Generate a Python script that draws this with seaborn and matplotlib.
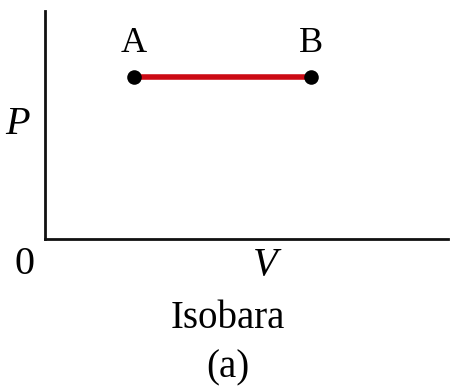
import matplotlib
matplotlib.use("Agg")
import matplotlib.pyplot as plt
import seaborn as sns
import pandas as pd

# Isobaric process: constant pressure, volume grows from A to B
states = ["A", "B"]
volume = [1.0, 3.0]
pressure = [1.0, 1.0]

df = pd.DataFrame({"state": states, "V": volume, "P": pressure})

sns.set_style("white")
plt.rcParams["font.family"] = ["Liberation Serif", "DejaVu Serif"]
plt.rcParams["text.color"] = "black"

fig = plt.figure(figsize=(4.5, 3.9), dpi=100)
ax = fig.add_axes([45 / 450, 1 - 239 / 390, 403 / 450, 228 / 390])

sns.lineplot(data=df, x="V", y="P", ax=ax, color="#cc0a14", linewidth=4.0,
             sort=False, zorder=2)
sns.scatterplot(data=df, x="V", y="P", ax=ax, color="black", s=110,
                linewidth=0, zorder=3, legend=False)

for _, row in df.iterrows():
    ax.annotate(row["state"], (row["V"], row["P"]), xytext=(0, 12),
                textcoords="offset points", ha="center", va="bottom",
                fontsize=26, color="black")

ax.set_xlim(0, 4.55)
ax.set_ylim(0, 1.407)
ax.set_xticks([])
ax.set_yticks([])
ax.set_xlabel("")
ax.set_ylabel("")
for side in ("top", "right"):
    ax.spines[side].set_visible(False)
for side in ("left", "bottom"):
    ax.spines[side].set_linewidth(2.0)
    ax.spines[side].set_color("#111111")

ax.text(-20 / 403, -26 / 228, "0", transform=ax.transAxes, ha="center",
        va="center", fontsize=29)
ax.text(220 / 403, -27 / 228, "V", transform=ax.transAxes, ha="center",
        va="center", fontsize=29, style="italic")
ax.text(-27 / 403, (239 - 125) / 228, "P", transform=ax.transAxes, ha="center",
        va="center", fontsize=29, style="italic")

fig.text(228 / 450, 1 - 318 / 390, "Isobara", ha="center", va="center",
         fontsize=28)
fig.text(228 / 450, 1 - 368 / 390, "(a)", ha="center", va="center",
         fontsize=28)

fig.savefig("out.png", dpi=100)
